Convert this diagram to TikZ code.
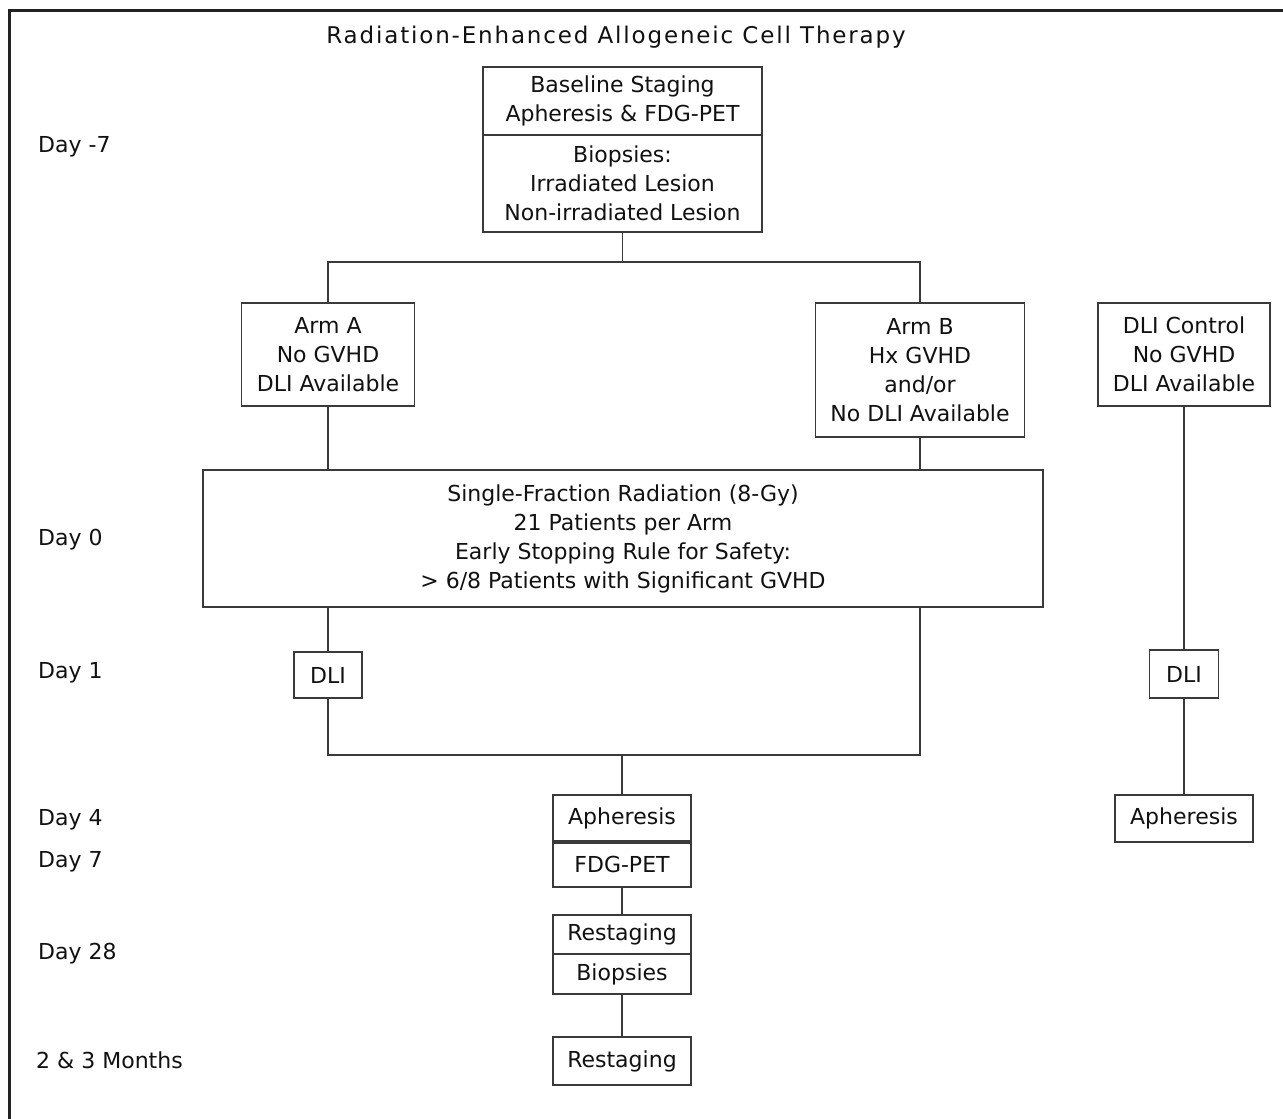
\documentclass[tikz,border=0pt]{standalone}
\usepackage{fontspec}
\setmainfont{DejaVu Sans}
\newfontfamily\titlefont[LetterSpace=8]{DejaVu Sans}
\definecolor{linec}{HTML}{3A3A3A}
\definecolor{bordc}{HTML}{222222}
\definecolor{txt}{HTML}{111111}
\newcommand{\diagfont}{\fontsize{22}{29}\selectfont}
\begin{document}
\begin{tikzpicture}[x=1pt,y=-1pt,
  box/.style={draw=linec, line width=1.9pt, fill=white, inner sep=0pt, align=center, font=\diagfont, text=txt},
  lbl/.style={anchor=west, inner sep=0pt, font=\diagfont, text=txt},
  conn/.style={draw=linec, line width=1.9pt}]
\useasboundingbox (0,0) rectangle (1283,1119);
\draw[line width=3pt, draw=bordc] (9,1119) -- (9,10) -- (1283,10);
\node[font=\titlefont\fontsize{23}{29}\selectfont, text=txt, inner sep=0pt] (title) at (616,37) {Radiation-Enhanced Allogeneic Cell Therapy};
% day labels
\node[lbl] (d7) at (38,147) {Day -7};
\node[lbl] (d0) at (38,540) {Day 0};
\node[lbl] (d1) at (38,673) {Day 1};
\node[lbl] (d4) at (38,820) {Day 4};
\node[lbl] (dd7) at (38,862) {Day 7};
\node[lbl] (d28) at (38,954) {Day 28};
\node[lbl] (m23) at (36,1060) {2 \& 3 Months};
% boxes
\node[box, minimum width=279pt, minimum height=68pt] (baseA) at (622.5,101) {Baseline Staging\\Apheresis \& FDG-PET};
\node[box, minimum width=279pt, minimum height=97pt] (baseB) at (622.5,183.5) {Biopsies:\\Irradiated Lesion\\Non-irradiated Lesion};
\node[box, minimum width=173pt, minimum height=103pt] (armA) at (328,354.5) {Arm A\\No GVHD\\DLI Available};
\node[box, minimum width=209pt, minimum height=134pt] (armB) at (920,370) {Arm B\\Hx GVHD\\and/or\\No DLI Available};
\node[box, minimum width=172pt, minimum height=103pt] (ctrl) at (1184,354.5) {DLI Control\\No GVHD\\DLI Available};
\node[box, minimum width=840pt, minimum height=137pt] (big) at (623,538.5) {Single-Fraction Radiation (8-Gy)\\21 Patients per Arm\\Early Stopping Rule for Safety:\\{> 6/8 Patients with Significant GVHD}};
\node[box, minimum width=68pt, minimum height=46pt] (dliA) at (328,675) {DLI};
\node[box, minimum width=69pt, minimum height=48pt] (dliC) at (1184,674) {DLI};
\node[box, minimum width=138pt, minimum height=47pt] (aphC) at (1184,818.5) {Apheresis};
\node[box, minimum width=138pt, minimum height=46pt] (aphA) at (622,818) {Apheresis};
\node[box, minimum width=138pt, minimum height=46pt] (aphB) at (622,864) {FDG-PET};
\node[box, minimum width=138pt, minimum height=39pt] (restA) at (622,934.5) {Restaging};
\node[box, minimum width=138pt, minimum height=40pt] (restB) at (622,974) {Biopsies};
\node[box, minimum width=138pt, minimum height=48pt] (rest2) at (622,1061) {Restaging};
\draw[line width=4pt, draw=linec] (aphA.south west) -- (aphA.south east);
% junctions
\coordinate (j1) at (622.5,262);
\coordinate (j2) at (622,755);
% connectors
\draw[conn] (baseB.south) -- (j1);
\draw[conn] (armA.north) |- (j1) -| (armB.north);
\draw[conn] (armA.south) -- (armA.south |- big.north);
\draw[conn] (armB.south) -- (armB.south |- big.north);
\draw[conn] (dliA.north |- big.south) -- (dliA.north);
\draw[conn] (dliA.south) |- (j2) -| (armB.south |- big.south);
\draw[conn] (j2) -- (aphA.north);
\draw[conn] (aphB.south) -- (restA.north);
\draw[conn] (restB.south) -- (rest2.north);
\draw[conn] (ctrl.south) -- (dliC.north);
\draw[conn] (dliC.south) -- (aphC.north);
\end{tikzpicture}
\end{document}
